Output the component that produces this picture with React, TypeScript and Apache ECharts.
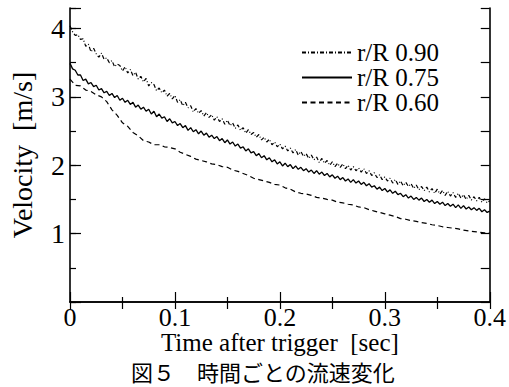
import React, { useEffect, useRef } from "react";
import * as echarts from "echarts";

// Sampling steps of the recorded velocity traces [sec]
const FINE_STEP = 0.0025;
const COARSE_STEP = 0.005;

// r/R 0.90 (dash-dot), sampled every FINE_STEP
const r090: number[] = [
  4.04, 3.95, 3.9, 3.91, 3.84, 3.85, 3.74, 3.77, 3.66, 3.71,
  3.63, 3.58, 3.64, 3.55, 3.57, 3.5, 3.53, 3.44, 3.48, 3.46,
  3.38, 3.44, 3.35, 3.4, 3.31, 3.36, 3.26, 3.3, 3.22, 3.27,
  3.16, 3.21, 3.18, 3.09, 3.13, 3.06, 3.1, 3.01, 3.05, 2.97,
  3.02, 2.92, 2.96, 2.87, 2.92, 2.84, 2.87, 2.78, 2.83, 2.76,
  2.8, 2.72, 2.77, 2.7, 2.74, 2.66, 2.71, 2.64, 2.68, 2.6,
  2.66, 2.58, 2.62, 2.54, 2.59, 2.51, 2.55, 2.47, 2.52, 2.45,
  2.48, 2.41, 2.45, 2.37, 2.41, 2.34, 2.38, 2.3, 2.34, 2.27,
  2.31, 2.24, 2.28, 2.21, 2.25, 2.18, 2.23, 2.15, 2.2, 2.13,
  2.17, 2.1, 2.15, 2.08, 2.12, 2.04, 2.1, 2.03, 2.07, 2.0,
  2.05, 1.98, 2.03, 1.97, 2.02, 1.95, 2.0, 1.93, 1.98, 1.92,
  1.96, 1.9, 1.95, 1.88, 1.92, 1.85, 1.89, 1.82, 1.86, 1.79,
  1.83, 1.77, 1.81, 1.74, 1.79, 1.72, 1.77, 1.7, 1.75, 1.69,
  1.73, 1.66, 1.71, 1.64, 1.69, 1.63, 1.68, 1.61, 1.66, 1.59,
  1.65, 1.58, 1.63, 1.56, 1.62, 1.55, 1.6, 1.53, 1.59, 1.52,
  1.57, 1.5, 1.56, 1.49, 1.54, 1.48, 1.53, 1.46, 1.51, 1.45,
  1.48,
];

// r/R 0.75 (solid), sampled every FINE_STEP
const r075: number[] = [
  3.49, 3.41, 3.39, 3.32, 3.32, 3.24, 3.26, 3.19, 3.21, 3.15,
  3.17, 3.1, 3.12, 3.06, 3.08, 3.02, 3.05, 2.99, 3.02, 2.95,
  2.98, 2.92, 2.95, 2.89, 2.92, 2.85, 2.88, 2.82, 2.85, 2.79,
  2.82, 2.75, 2.79, 2.71, 2.75, 2.69, 2.71, 2.64, 2.68, 2.62,
  2.64, 2.58, 2.61, 2.55, 2.58, 2.51, 2.55, 2.49, 2.52, 2.46,
  2.5, 2.44, 2.47, 2.41, 2.44, 2.39, 2.42, 2.36, 2.39, 2.33,
  2.37, 2.31, 2.34, 2.28, 2.31, 2.25, 2.27, 2.21, 2.24, 2.18,
  2.2, 2.14, 2.17, 2.11, 2.14, 2.08, 2.11, 2.05, 2.08, 2.02,
  2.05, 1.99, 2.03, 1.98, 2.01, 1.95, 1.99, 1.94, 1.97, 1.92,
  1.95, 1.9, 1.93, 1.88, 1.92, 1.87, 1.9, 1.85, 1.88, 1.83,
  1.86, 1.81, 1.84, 1.79, 1.82, 1.77, 1.8, 1.75, 1.79, 1.74,
  1.77, 1.72, 1.75, 1.7, 1.73, 1.68, 1.7, 1.65, 1.68, 1.63,
  1.66, 1.61, 1.64, 1.59, 1.62, 1.57, 1.59, 1.54, 1.57, 1.52,
  1.55, 1.5, 1.53, 1.49, 1.52, 1.47, 1.5, 1.46, 1.49, 1.44,
  1.47, 1.43, 1.46, 1.41, 1.44, 1.4, 1.43, 1.38, 1.42, 1.37,
  1.41, 1.36, 1.39, 1.35, 1.38, 1.34, 1.37, 1.32, 1.35, 1.31,
  1.33,
];

// r/R 0.60 (dashed), sampled every COARSE_STEP
const r060: number[] = [
  3.26, 3.17, 3.16, 3.1, 3.08, 3.03, 3.0, 2.93, 2.81, 2.73,
  2.62, 2.57, 2.48, 2.43, 2.36, 2.34, 2.3, 2.3, 2.27, 2.26,
  2.24, 2.19, 2.16, 2.13, 2.09, 2.07, 2.05, 2.02, 2.01, 1.98,
  1.97, 1.93, 1.91, 1.88, 1.85, 1.81, 1.79, 1.77, 1.75, 1.72,
  1.71, 1.67, 1.65, 1.61, 1.59, 1.58, 1.56, 1.53, 1.52, 1.5,
  1.49, 1.46, 1.45, 1.43, 1.42, 1.39, 1.38, 1.35, 1.33, 1.31,
  1.29, 1.27, 1.25, 1.22, 1.21, 1.19, 1.18, 1.16, 1.15, 1.13,
  1.12, 1.1, 1.09, 1.08, 1.07, 1.05, 1.04, 1.03, 1.02, 1.01,
  1.01,
];

const seriesNames = ["r/R 0.90", "r/R 0.75", "r/R 0.60"];
const xRange = [0, 0.4];
const yRange = [0, 4.3];

const SERIF = "'Liberation Serif', 'Times New Roman', serif";
const BLACK = "#000";

export default function App() {
  const ref = useRef<HTMLDivElement>(null);

  useEffect(() => {
    const chart = echarts.init(ref.current!, null, { renderer: "svg" });
    const toPts = (vals: number[], step: number) =>
      vals.map((v, i) => [Number((i * step).toFixed(4)), v]);

    const frameLine = { show: true, lineStyle: { color: BLACK, width: 1.6 } };
    const tickStyle = { color: BLACK, width: 1.2 };

    chart.setOption({
      animation: false,
      backgroundColor: "#fff",
      grid: { left: 70, right: 19, top: 8, bottom: 85 },
      title: {
        text: "図５　時間ごとの流速変化",
        left: 131,
        top: 360,
        padding: 0,
        textStyle: {
          fontFamily: "'Noto Sans CJK JP'",
          fontSize: 22,
          fontWeight: "normal",
          color: BLACK,
        },
      },
      legend: {
        orient: "vertical",
        left: 301,
        top: 40,
        padding: 0,
        itemWidth: 50,
        itemHeight: 14,
        itemGap: 0,
        data: seriesNames,
        itemStyle: { opacity: 0 },
        textStyle: { fontFamily: SERIF, fontSize: 25, color: BLACK, lineHeight: 25 },
      },
      xAxis: [
        {
          type: "value",
          min: xRange[0],
          max: xRange[1],
          interval: 0.1,
          position: "bottom",
          axisLine: frameLine,
          axisTick: { show: true, inside: true, length: 10, lineStyle: tickStyle },
          minorTick: { show: true, splitNumber: 2, length: 5, lineStyle: tickStyle },
          splitLine: { show: false },
          axisLabel: {
            color: BLACK,
            fontFamily: SERIF,
            fontSize: 26,
            margin: 2,
            formatter: (v: number) => (v === 0 ? "0" : v.toFixed(1)),
          },
          name: "Time after trigger  [sec]",
          nameLocation: "middle",
          nameGap: 28,
          nameMoveOverlap: false,
          nameTextStyle: { color: BLACK, fontFamily: SERIF, fontSize: 25 },
        },
        {
          type: "value",
          min: xRange[0],
          max: xRange[1],
          interval: 0.05,
          position: "top",
          axisLine: frameLine,
          axisTick: { show: true, inside: true, length: 7, lineStyle: tickStyle },
          splitLine: { show: false },
          axisLabel: { show: false },
        },
      ],
      yAxis: [
        {
          type: "value",
          min: yRange[0],
          max: yRange[1],
          interval: 1,
          position: "left",
          axisLine: frameLine,
          axisTick: { show: true, inside: true, length: 11, lineStyle: tickStyle },
          splitLine: { show: false },
          axisLabel: {
            color: BLACK,
            fontFamily: SERIF,
            fontSize: 28,
            margin: 5,
            formatter: (v: number) =>
              v > 0 && Math.abs(v - Math.round(v)) < 1e-9 ? String(Math.round(v)) : "",
          },
          name: "Velocity  [m/s]",
          nameLocation: "middle",
          nameGap: 34,
          nameMoveOverlap: false,
          nameTextStyle: { color: BLACK, fontFamily: SERIF, fontSize: 28 },
        },
        {
          type: "value",
          min: yRange[0],
          max: yRange[1],
          interval: 0.5,
          position: "left",
          axisLine: { show: false },
          axisTick: { show: true, inside: true, length: 6, lineStyle: tickStyle },
          splitLine: { show: false },
          axisLabel: { show: false },
        },
        {
          type: "value",
          min: yRange[0],
          max: yRange[1],
          interval: 0.5,
          position: "right",
          axisLine: frameLine,
          axisTick: { show: true, inside: true, length: 9, lineStyle: tickStyle },
          splitLine: { show: false },
          axisLabel: { show: false },
        },
      ],
      series: [
        {
          name: seriesNames[0],
          type: "line",
          data: toPts(r090, FINE_STEP),
          symbol: "none",
          showSymbol: false,
          lineStyle: { color: BLACK, width: 1.2, type: [4, 2, 1, 2] },
          itemStyle: { color: BLACK },
        },
        {
          name: seriesNames[1],
          type: "line",
          data: toPts(r075, FINE_STEP),
          symbol: "none",
          showSymbol: false,
          lineStyle: { color: BLACK, width: 1.3, type: "solid" },
          itemStyle: { color: BLACK },
        },
        {
          name: seriesNames[2],
          type: "line",
          data: toPts(r060, COARSE_STEP),
          symbol: "none",
          showSymbol: false,
          lineStyle: { color: BLACK, width: 1.2, type: [5, 3.5] },
          itemStyle: { color: BLACK },
        },
      ],
    });

    return () => chart.dispose();
  }, []);

  return (
    <div
      ref={ref}
      style={{ position: "fixed", left: 0, top: 0, width: 509, height: 387, background: "#fff" }}
    />
  );
}
